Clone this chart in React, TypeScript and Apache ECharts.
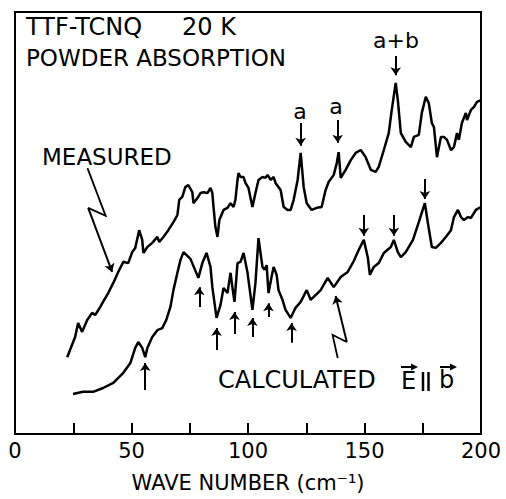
import React, { useEffect, useRef } from 'react';
import * as echarts from 'echarts';

// x axis (wave number, cm^-1)
const xTickStep = 25;
const xLabelValues = [0, 50, 100, 150, 200];

// Measured powder absorption (arbitrary units)
const measuredWave = [
  22.4, 25.8, 27.1, 28.8, 31.0, 33.1, 34.4, 36.6, 37.8, 40.0, 42.2, 44.3, 46.5, 48.6, 50.3, 51.6, 53.3, 54.6, 55.1,
  56.8, 58.9, 61.1, 61.9, 63.7, 65.8, 68.0, 69.7, 70.5, 71.8, 73.1, 74.4, 76.1, 76.6, 78.3, 79.6, 80.9, 82.6, 83.9,
  84.7, 85.2, 86.0, 86.9, 87.7, 89.5, 91.2, 92.5, 93.8, 94.6, 95.5, 95.9, 96.8, 98.1, 98.9, 100.2, 101.9, 103.2,
  104.5, 106.2, 107.5, 108.4, 109.7, 111.0, 111.8, 114.0, 115.3, 117.0, 118.3, 119.6, 121.3, 122.6, 123.9, 125.2,
  127.3, 129.5, 131.6, 133.3, 134.6, 136.8, 138.1, 138.9, 139.8, 141.9, 144.1, 146.2, 148.4, 150.5, 152.7, 154.8,
  156.1, 158.3, 160.4, 161.7, 163.4, 164.3, 165.6, 167.7, 169.9, 171.2, 173.3, 174.6, 176.3, 177.6, 178.9, 179.8,
  181.1, 182.8, 184.1, 185.4, 187.1, 188.4, 189.7, 190.5, 191.8, 193.5, 194.0, 195.7, 197.0, 198.3, 200.0,
];
const measuredAbs = [
  18.2, 23.0, 26.3, 24.2, 27.0, 28.7, 28.2, 30.1, 31.3, 33.4, 35.8, 38.4, 40.8, 40.5, 43.1, 44.1, 48.3, 46.0, 42.9,
  44.3, 45.3, 46.7, 45.5, 46.7, 48.3, 50.2, 51.9, 55.5, 56.2, 58.5, 59.0, 57.3, 54.7, 55.9, 57.1, 57.3, 57.1, 58.3,
  57.1, 53.8, 49.1, 46.7, 50.7, 53.1, 53.6, 54.7, 53.8, 55.5, 60.2, 61.8, 60.9, 60.9, 59.5, 58.3, 53.8, 57.1,
  60.2, 60.9, 60.7, 61.4, 60.2, 60.9, 59.5, 57.8, 53.8, 53.1, 53.1, 55.5, 60.2, 66.6, 58.5, 54.7,
  53.1, 53.6, 53.8, 57.8, 59.7, 61.4, 64.2, 66.8, 60.7, 62.6, 64.9, 66.6, 67.3, 65.6, 62.6, 62.1,
  63.3, 67.3, 71.3, 76.8, 83.2, 79.1, 71.3, 69.2, 68.0, 70.4, 70.9, 76.1, 79.9, 78.4, 73.7, 72.7,
  65.6, 70.4, 70.4, 69.7, 67.3, 68.0, 71.3, 69.7, 73.7, 76.1, 74.4, 76.8, 77.5, 78.7, 79.1,
];

// Calculated absorption E || b (arbitrary units)
const calculatedWave = [
  24.9, 29.2, 33.5, 37.8, 42.2, 46.5, 49.5, 51.6, 52.9, 54.6, 55.9, 56.8, 58.9, 61.1, 63.2, 64.9, 66.7, 68.0, 69.7,
  71.0, 72.3, 75.3, 78.7, 80.4, 82.2, 83.9, 84.7, 86.5, 88.2, 89.5, 91.2, 92.5, 93.3, 94.2, 95.5, 96.8, 98.1, 99.8,
  101.9, 103.2, 104.5, 106.2, 107.1, 108.0, 108.8, 110.1, 111.0, 112.3, 113.1, 114.8, 116.1, 118.3, 120.4, 122.6,
  125.2, 126.9, 131.2, 134.2, 136.8, 139.8, 142.8, 145.4, 147.5, 149.7, 151.4, 152.3, 154.0, 156.1, 158.3, 161.3,
  162.6, 164.3, 165.6, 167.7, 170.8, 173.3, 175.9, 177.2, 178.9, 180.6, 182.8, 184.9, 187.1, 188.4, 190.1, 191.4,
  192.7, 194.4, 195.7, 197.8, 200.0,
];
const calculatedAbs = [
  9.5, 10.0, 10.0, 10.9, 12.1, 14.5, 16.8, 20.4, 21.8, 20.4, 18.2, 20.4, 23.0, 24.6, 25.1, 27.0, 30.1, 34.1, 38.2,
  41.2, 43.1, 41.5, 37.0, 40.5, 42.9, 39.6, 34.8, 27.5, 30.6, 34.6, 33.4, 38.2, 34.8, 31.3, 40.5, 40.8, 42.9, 38.2,
  29.4, 35.8, 46.4, 39.6, 38.9, 40.0, 33.4, 37.2, 39.6, 37.7, 34.1, 31.8, 29.4, 27.5, 29.9, 31.3,
  34.1, 31.8, 34.1, 37.0, 34.8, 37.2, 38.4, 41.0, 43.6, 46.0, 41.9, 37.7, 39.6, 40.5, 42.9, 44.3,
  46.0, 43.1, 41.9, 43.1, 46.0, 50.2, 54.7, 50.0, 44.3, 44.1, 45.3, 46.7, 48.3, 51.4, 53.1, 51.4,
  50.7, 51.4, 51.2, 53.1, 53.8,
];

// Peak marker arrows: [wave number, start, end] (arbitrary units)
const measuredPeakArrows = [
  [122.6, 73.7, 68.3],
  [138.5, 74.4, 69.0],
  [163.4, 89.6, 85.0],
];
const calculatedPeakArrows = [
  [149.7, 51.9, 47.0],
  [162.6, 51.9, 47.0],
  [175.9, 60.4, 55.7],
];
const calculatedDipArrows = [
  [55.9, 10.4, 16.8],
  [79.1, 30.1, 34.8],
  [86.5, 19.9, 25.1],
  [94.2, 23.7, 28.9],
  [101.9, 23.0, 27.5],
  [108.8, 27.7, 31.0],
  [118.7, 21.6, 26.3],
];
// Zig-zag pointers from the labels to the curves
const measuredPointer = [[31.1, 63.0], [38.9, 51.7], [31.4, 53.6], [41.7, 38.4]];
const calculatedPointer = [[138.5, 18.0], [136.3, 23.5], [142.4, 21.8], [137.6, 32.7]];

const FONT = 'DejaVu Sans';

function txt(text: string, x: number, y: number, size: number, align = 'left') {
  return {
    type: 'text',
    x,
    y,
    silent: true,
    style: {
      text,
      fill: '#000',
      fontSize: size,
      fontFamily: FONT,
      align,
      textAlign: align,
      verticalAlign: 'middle',
      textVerticalAlign: 'middle',
    },
  };
}

export default function App() {
  const ref = useRef<HTMLDivElement>(null);

  useEffect(() => {
    if (!ref.current) return;
    const chart = echarts.init(ref.current, undefined, { renderer: 'svg' });

    const zip = (xs: number[], ys: number[]) => xs.map((x, i) => [x, ys[i]]);
    const arrowData = [
      ...measuredPeakArrows.map(([x, a, b]) => ({ coords: [[x, a], [x, b]] })),
      ...calculatedPeakArrows.map(([x, a, b]) => ({ coords: [[x, a], [x, b]] })),
      ...calculatedDipArrows.map(([x, a, b]) => ({ coords: [[x, a], [x, b]] })),
      { coords: measuredPointer.slice(2, 4) },
      { coords: calculatedPointer.slice(2, 4) },
    ];

    chart.setOption({
      animation: false,
      backgroundColor: '#fff',
      grid: {
        left: 15,
        right: 25,
        top: 12,
        bottom: 65,
        show: true,
        borderColor: '#000',
        borderWidth: 2,
        backgroundColor: 'transparent',
      },
      xAxis: {
        type: 'value',
        min: 0,
        max: 200,
        interval: xTickStep,
        name: 'WAVE NUMBER (cm⁻¹)',
        nameLocation: 'middle',
        nameGap: 38,
        nameTextStyle: { color: '#000', fontSize: 21, fontFamily: FONT },
        axisLine: { show: true, lineStyle: { color: '#000', width: 2 } },
        axisTick: { show: true, inside: true, length: 11, lineStyle: { color: '#000', width: 2 } },
        axisLabel: {
          color: '#000',
          fontSize: 21,
          fontFamily: FONT,
          margin: 6,
          formatter: (v: number) => (xLabelValues.includes(v) ? String(v) : ''),
        },
        splitLine: { show: false },
      },
      yAxis: {
        type: 'value',
        min: 0,
        max: 100,
        axisLine: { show: false },
        axisTick: { show: false },
        axisLabel: { show: false },
        splitLine: { show: false },
      },
      series: [
        {
          type: 'line',
          name: 'Measured',
          data: zip(measuredWave, measuredAbs),
          showSymbol: false,
          lineStyle: { color: '#000', width: 2.5 },
          itemStyle: { color: '#000' },
        },
        {
          type: 'line',
          name: 'Calculated',
          data: zip(calculatedWave, calculatedAbs),
          showSymbol: false,
          lineStyle: { color: '#000', width: 2.5 },
          itemStyle: { color: '#000' },
        },
        {
          type: 'lines',
          coordinateSystem: 'cartesian2d',
          polyline: false,
          symbol: ['none', 'arrow'],
          symbolSize: 8,
          lineStyle: { color: '#000', width: 2, opacity: 1, curveness: 0 },
          data: arrowData,
          silent: true,
        },
        {
          type: 'lines',
          coordinateSystem: 'cartesian2d',
          polyline: true,
          lineStyle: { color: '#000', width: 1.8, opacity: 1 },
          data: [{ coords: measuredPointer.slice(0, 3) }, { coords: calculatedPointer.slice(0, 3) }],
          silent: true,
        },
      ],
      graphic: [
        txt('TTF-TCNQ', 26, 27, 24),
        txt('20 K', 182, 27, 24),
        txt('POWDER ABSORPTION', 26, 58, 23),
        txt('MEASURED', 42, 157, 23),
        txt('a', 300, 111, 22, 'center'),
        txt('a', 336, 106, 22, 'center'),
        txt('a+b', 396, 40, 22, 'center'),
        txt('CALCULATED', 218, 380, 24),
        txt('E', 401, 381, 24),
        txt('b', 439, 380, 24),
        { type: 'line', silent: true, shape: { x1: 423, y1: 372, x2: 423, y2: 391 }, style: { stroke: '#000', lineWidth: 2.5 } },
        { type: 'line', silent: true, shape: { x1: 428.5, y1: 372, x2: 428.5, y2: 391 }, style: { stroke: '#000', lineWidth: 2.5 } },
        { type: 'line', silent: true, shape: { x1: 401, y1: 367, x2: 413, y2: 367 }, style: { stroke: '#000', lineWidth: 2 } },
        { type: 'polygon', silent: true, shape: { points: [[418, 367], [411, 363.5], [411, 370.5]] }, style: { fill: '#000' } },
        { type: 'line', silent: true, shape: { x1: 440, y1: 367, x2: 452, y2: 367 }, style: { stroke: '#000', lineWidth: 2 } },
        { type: 'polygon', silent: true, shape: { points: [[457, 367], [450, 363.5], [450, 370.5]] }, style: { fill: '#000' } },
      ],
    });

    return () => chart.dispose();
  }, []);

  return (
    <div
      ref={ref}
      style={{ position: 'fixed', left: 0, top: 0, width: 506, height: 499, background: '#fff' }}
    />
  );
}
